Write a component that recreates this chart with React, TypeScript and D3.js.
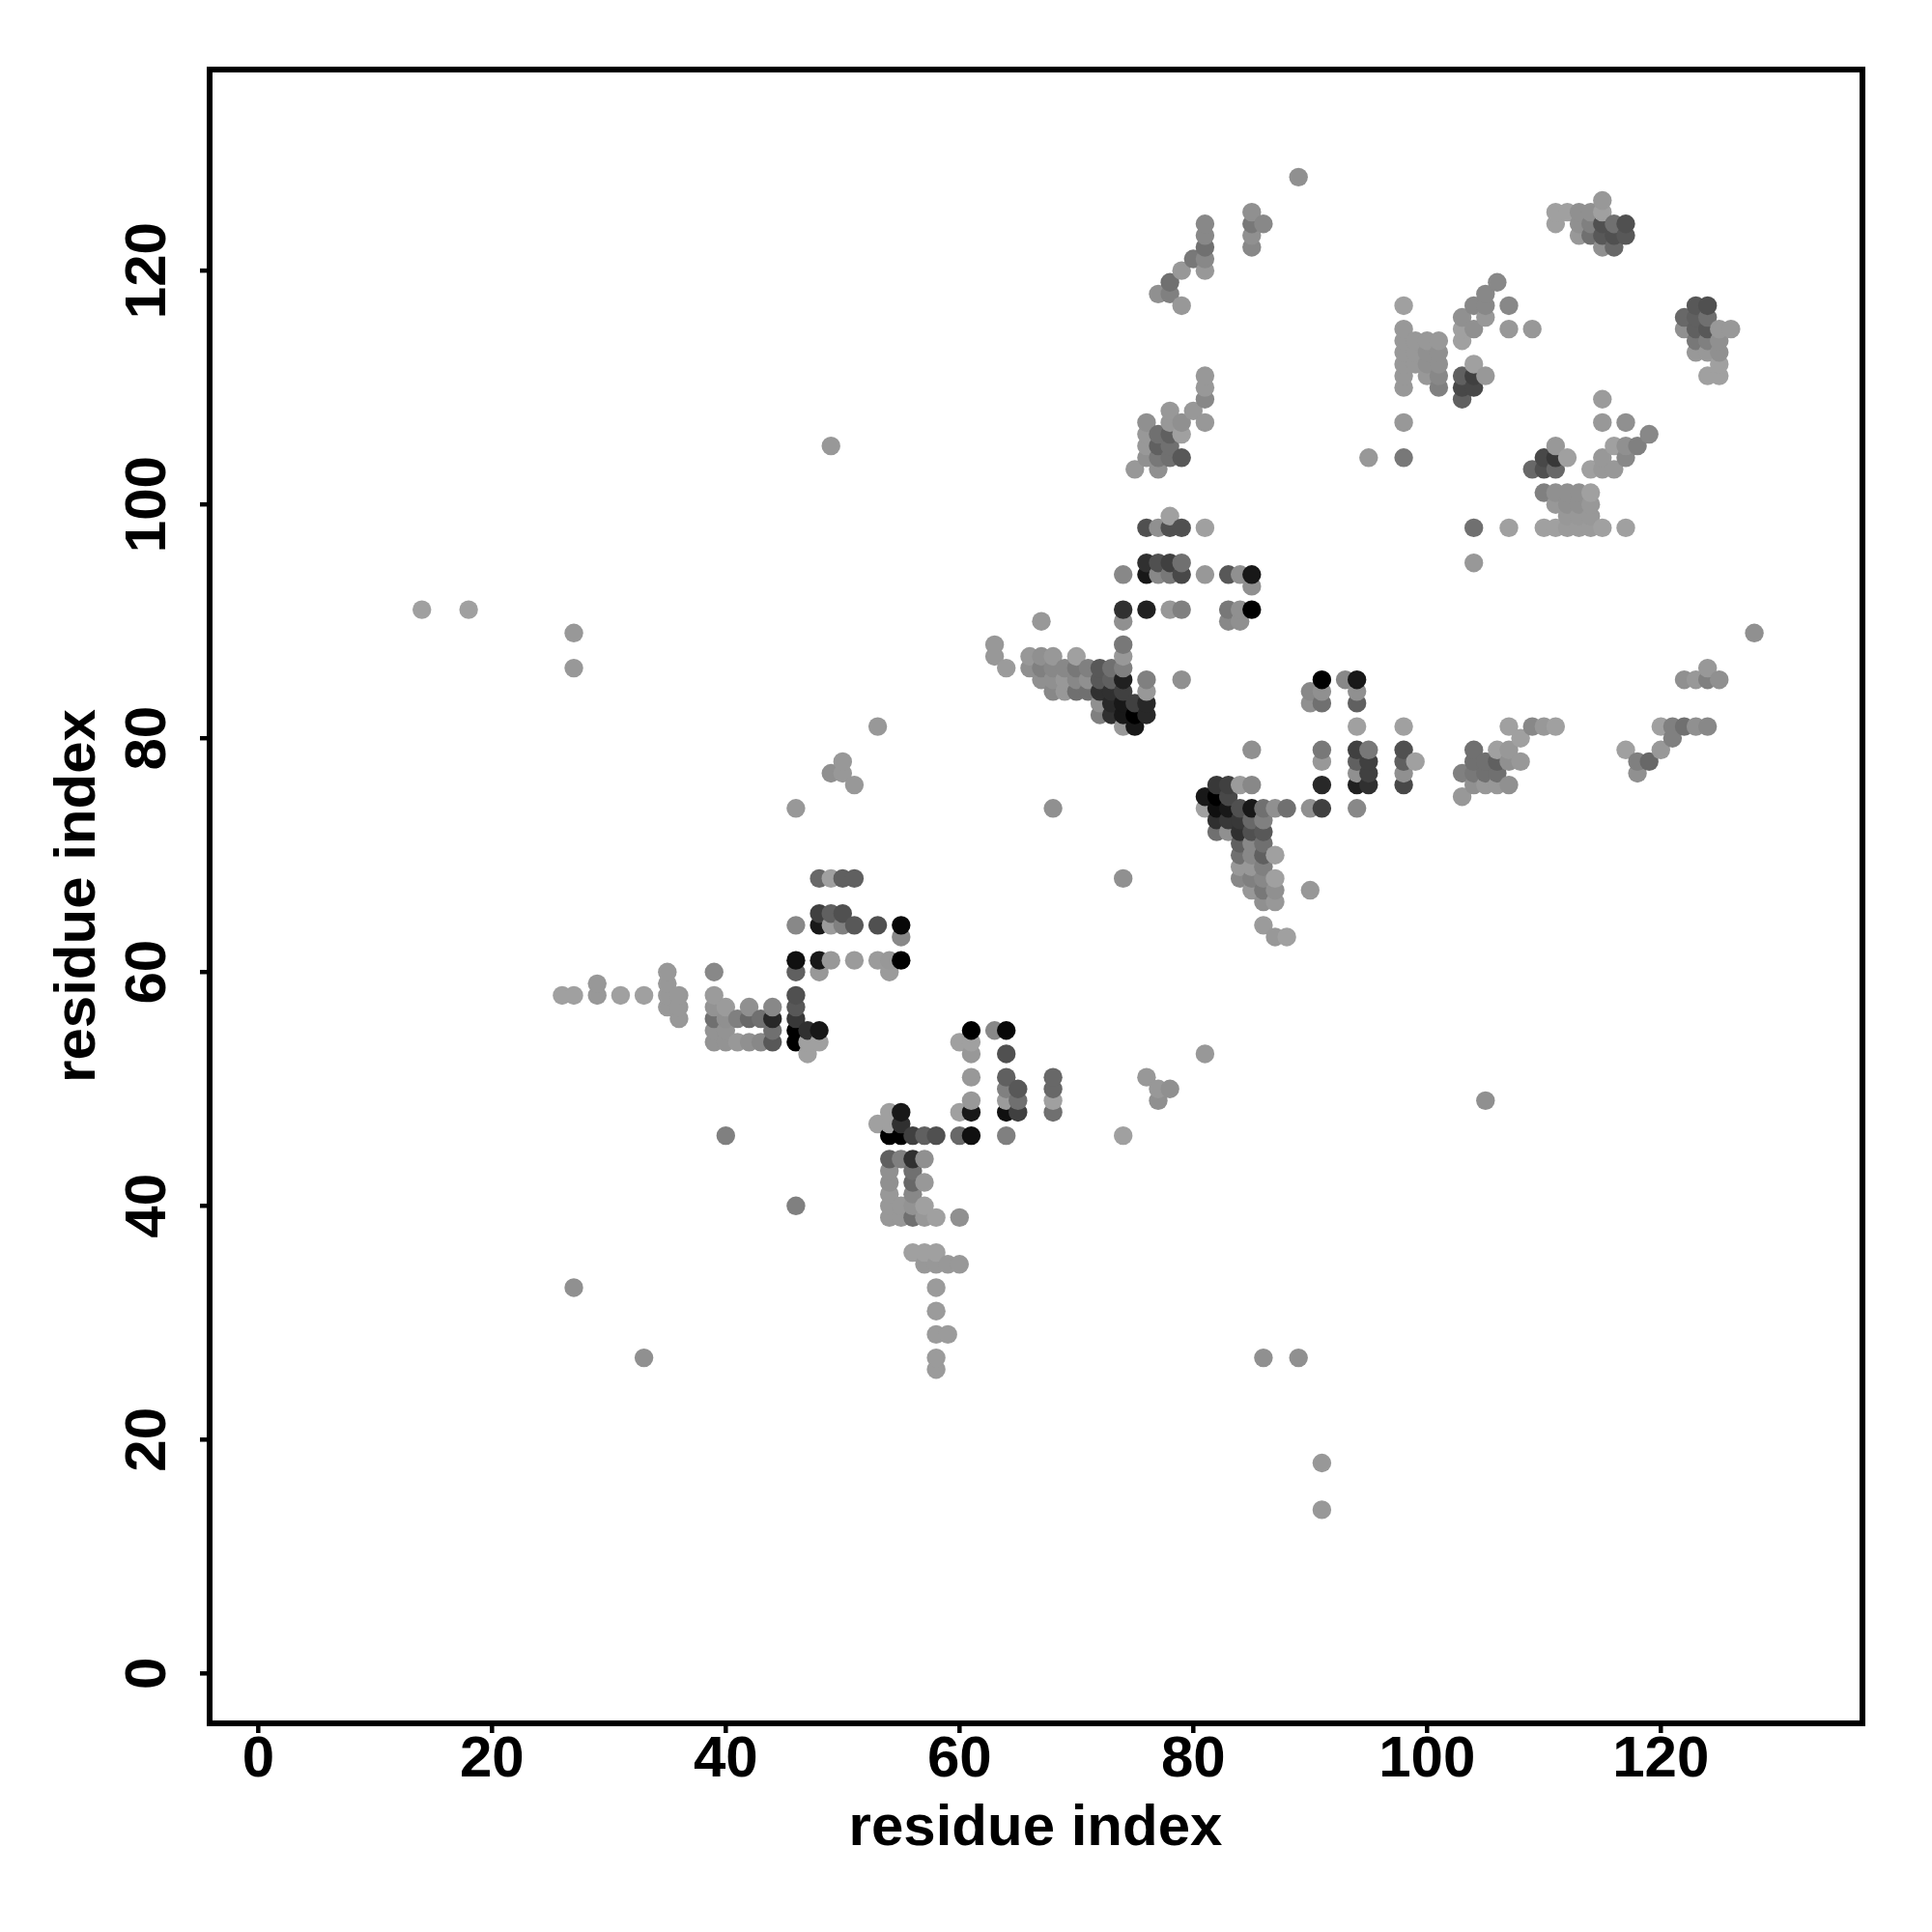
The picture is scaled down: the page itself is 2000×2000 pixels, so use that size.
import React from "react";
import * as d3 from "d3";

type Contact = [number, number, number];

// [residue i, residue j, contact strength 0..10]
const isolatedContacts: Contact[] = [
  [14,91,0],[18,91,0],[27,89,.5],[27,86,.5],[27,33,1],[33,27,1],[49,105,.5],[53,81,.5],[50,78,.5],[49,77,1],[50,77,.5],[51,76,.5],
  [46,74,.5],[68,74,1],[74,68,1],[46,40,2],[40,46,2],[86,27,1],[89,27,1],[91,18,.5],[91,14,.5],[105,49,1],[74,46,0],[81,53,.5],
  [76,51,.5],[77,50,.5],[78,50,1],[77,49,1],[90,67,.5],[67,90,.5],[85,79,1],[128,89,1],[95,104,.5],
];
const strandLeft: Contact[] = [
  [26,58,0],[27,58,0],[29,59,.5],[29,58,.5],[31,58,0],[33,58,0],[35,60,.5],[35,59,.5],[35,58,.5],[35,57,.5],[36,58,.5],[36,57,.5],[36,56,.5],
  [39,60,1.5],[39,58,.3],[39,57,.8],[39,56,3],[39,55,.8],[39,54,.8],[40,57,.3],[40,56,1],[40,55,.8],[40,54,.8],[41,56,2],[41,54,.5],
  [42,57,1],[42,56,3.5],[42,54,1],[43,56,3],[43,54,1.5],[44,57,1.5],[44,56,7.5],[44,55,3],[44,54,4.5],
  [46,64,1.5],[46,61,9],[46,60,4],[46,58,5],[46,57,4.5],[46,56,6.5],[46,55,10],[46,54,10],[47,55,7],[47,54,0],[47,53,0],[48,68,3.5],[48,65,6],[48,64,8.5],[48,61,8.5],[48,60,.5],[48,55,8.5],[48,54,0],
  [49,68,0],[49,65,4],[49,64,.3],[49,61,.5],[50,68,4],[50,65,5],[50,64,2],[51,68,4],[51,64,4.5],[51,61,.3],[53,64,5],[53,61,.3],[54,61,.5],[54,60,.3],[55,64,9.5],[55,63,1.5],[55,61,10],
];
const strandLower: Contact[] = [
  [53,47,0],[54,48,0],[54,47,0],[54,46,10],[54,44,4],[54,43,1],[54,42,1],[54,41,.5],[54,40,.5],[54,39,.5],[55,48,8.5],[55,47,7],[55,46,10],[55,44,2],[55,40,.5],[55,39,.5],
  [56,46,6],[56,44,7],[56,43,3],[56,42,3.5],[56,41,1.5],[56,40,.8],[56,39,3],[56,36,0],[57,46,4],[57,44,1],[57,42,.5],[57,40,0],[57,39,.5],[57,36,0],[57,35,.5],
  [58,46,5],[58,39,0],[58,36,0],[58,35,.5],[58,33,.3],[58,31,.3],[58,29,.3],[58,27,.3],[58,26,.3],[59,35,.5],[59,29,.3],[60,54,0],[60,48,0],[60,46,3.5],[60,39,1],[60,35,.5],
  [61,55,10],[61,54,0],[61,53,.5],[61,51,.5],[61,49,.5],[61,48,8.5],[61,46,9],[63,55,1.5],[64,55,9.5],[64,53,5],[64,51,4],[64,50,2],[64,49,.3],[64,48,9],[64,46,2],
  [65,50,4.5],[65,49,3],[65,48,6],[68,51,3.5],[68,50,3.5],[68,49,0],[68,48,3],
];
const strandCentre: Contact[] = [
  [63,88,.5],[63,87,.5],[64,86,.3],[66,87,.5],[66,86,1],[67,87,1],[67,86,2],[67,85,1],[68,87,.5],[68,86,1.5],[68,85,1],[68,84,1.5],[69,86,1.5],[69,85,.5],[69,84,.5],
  [70,87,0],[70,86,2.5],[70,85,1.5],[70,84,3],[71,86,2],[71,85,1],[71,84,3],[72,86,4.5],[72,85,4.5],[72,84,7],[72,83,1],[72,82,2],[73,86,3],[73,85,4],[73,84,7],[73,83,7.5],[73,82,7],
  [74,94,1.5],[74,91,7],[74,90,1],[74,88,2.5],[74,87,.5],[74,86,2],[74,85,8],[74,84,6],[74,83,8.5],[74,82,8.5],[74,81,.5],[75,83,6],[75,82,10],[75,81,8.5],[76,85,2],[76,84,.5],[76,83,7.5],[76,82,7.5],
  [76,98,5],[76,95,7],[76,94,8.5],[76,91,8],[77,98,1],[77,95,5],[77,94,1.5],[78,99,0],[78,98,5],[78,95,6],[78,94,2.5],[78,91,.5],[79,98,5],[79,95,3],[79,94,5.5],[79,91,2],[79,85,1],[81,98,0],[81,94,.5],
  [83,94,4.5],[83,91,2.5],[83,90,1.5],[84,94,1],[84,91,1],[84,90,1],[85,94,8.5],[85,93,1],[85,91,10],
];
const strandUpperLeft: Contact[] = [
  [75,103,.5],[76,107,1],[76,106,.5],[76,105,.5],[76,104,1],[77,106,3],[77,105,4],[77,104,2.5],[77,103,1],[78,108,.5],[78,107,.5],[78,106,4],[78,105,3],[78,104,3],[79,107,1],[79,106,0],[79,104,4.5],
  [80,108,.5],[81,111,.5],[81,110,.5],[81,109,1.5],[81,107,.5],
  [77,118,1],[78,119,3],[78,118,2],[79,120,.5],[79,117,.5],[80,121,2.5],[81,124,1.5],[81,123,1.5],[81,122,3],[81,121,1.5],[81,120,.5],[85,125,1],[85,124,2.5],[85,123,1],[85,122,1.5],[86,124,1.5],[89,128,1],
];
const strandCentreRight: Contact[] = [
  [81,75,8.5],[81,74,0],[82,76,6.5],[82,75,10],[82,74,9],[82,73,7],[82,72,3],[83,76,6],[83,75,5.5],[83,74,8.5],[83,73,6.5],[83,72,1],[84,76,.3],[84,74,5],[84,73,6.5],[84,72,7],[84,71,4],[84,70,3],[84,69,.5],[84,68,1.5],
  [85,76,1.5],[85,74,8.5],[85,73,3.5],[85,72,5],[85,71,1.5],[85,70,1.5],[85,69,.5],[85,68,2],[85,67,.5],[86,74,3],[86,73,2],[86,72,4.5],[86,71,3],[86,70,4],[86,69,2],[86,68,1.5],[86,67,2.5],[86,66,1],[86,64,.3],
  [87,74,1],[87,70,0],[87,68,0],[87,67,1],[87,66,.5],[87,63,.5],[88,74,3],[88,63,0],
  [90,84,1.5],[90,83,1],[90,74,1],[91,85,10],[91,84,1],[91,83,3],[91,79,2.5],[91,78,.5],[91,76,7.5],[91,74,6],[93,85,1.5],[94,85,8.5],[94,84,1],[94,83,4],[94,81,0],[94,79,6],[94,78,4],[94,77,1],[94,76,8],[94,74,1.5],
  [95,79,2.5],[95,78,6],[95,77,6],[95,76,7],[98,81,0],[98,79,5],[98,78,4],[98,77,1],[98,76,5.5],[99,78,0],
  [103,77,2],[103,75,.5],[104,79,3],[104,78,3],[104,77,2.5],[104,76,1],[105,78,3],[105,77,3],[105,76,.5],[106,79,0],[106,78,4],[106,77,3],[106,76,.5],[107,81,0],[107,79,.5],[107,78,1],[107,76,1],[108,80,0],[108,78,.5],[109,81,1.5],[110,81,.5],[111,81,0],
  [117,79,0],[118,78,2],[118,77,1],[119,78,3.5],[120,81,0],[120,79,.5],[121,81,2],[121,80,2],[122,85,1],[122,81,3],[123,85,.5],[123,81,1],[124,86,.5],[124,85,2],[124,81,1.5],[125,85,1],
];
const strandUpperRight: Contact[] = [
  [98,117,0],[98,115,.5],[98,114,.5],[98,113,.5],[98,112,.5],[98,111,.5],[98,110,.5],[98,107,.5],[98,104,2.5],[99,114,.5],[99,113,.5],[99,112,.5],[100,114,.5],[100,113,1],[100,112,1],[100,111,.5],[101,114,.5],[101,113,1],[101,112,1],[101,111,1.5],[101,110,2],
  [103,116,1],[103,115,0],[103,114,0],[103,111,4],[103,110,5.5],[103,109,4],[104,117,1.5],[104,115,1],[104,112,0],[104,111,6],[104,110,5.5],[104,98,3],[104,95,.5],[105,118,1.5],[105,117,1.5],[105,116,.5],[105,111,.5],[106,119,1.5],[107,117,1.5],[107,115,.5],[107,98,0],[109,115,.5],
  [109,103,3.5],[110,104,5.5],[110,103,5],[110,101,2],[110,98,0],[111,105,.5],[111,104,6.5],[111,103,3.5],[111,101,1],[111,100,.5],[111,98,0],[112,104,0],[112,101,1],[112,100,1],[112,99,.5],[112,98,.3],[113,101,1],[113,100,1],[113,99,.5],[113,98,.3],[114,103,0],[114,101,0],[114,100,.5],[114,99,.5],[114,98,.3],
  [115,109,.3],[115,107,.5],[115,104,.5],[115,103,.5],[115,98,0],[116,105,0],[116,103,.5],[117,107,1],[117,105,1],[117,104,1.5],[117,98,0],[118,105,2],[119,106,1.5],
  [111,125,0],[111,124,0],[112,125,0],[113,125,1],[113,124,1],[113,123,.5],[114,125,1],[114,124,2],[114,123,3],[115,126,.5],[115,125,0],[115,124,5],[115,123,4.5],[115,122,1],[116,124,3],[116,123,5],[116,122,3.5],[117,124,5],[117,123,4.5],
  [122,116,3.5],[122,115,1],[123,117,4.5],[123,116,4],[123,115,4],[123,114,2.5],[123,113,.5],[124,117,5],[124,116,3],[124,115,4.5],[124,114,2],[124,113,.5],[124,111,0],[125,115,.5],[125,114,1],[125,113,1],[125,112,0],[125,111,0],[126,115,.5],
];

const tickValues = [0, 20, 40, 60, 80, 100, 120];
const axisTitle = "residue index";

const FONT = "'Liberation Sans', Arial, Helvetica, sans-serif";

export default function App() {
  const left = 217, right = 1928, top = 72, bottom = 1784;
  const x = d3.scaleLinear().domain([-4.16, 137.25]).range([left, right]);
  const y = d3.scaleLinear().domain([-4.27, 137.2]).range([bottom, top]);
  const shade = d3.scaleLinear<number>().domain([0, 10]).range([160, 0]);

  const contacts = [
    ...isolatedContacts, ...strandLeft, ...strandLower, ...strandCentre,
    ...strandUpperLeft, ...strandCentreRight, ...strandUpperRight,
  ].sort((a, b) => d3.ascending(a[0], b[0]) || d3.ascending(a[1], b[1]));

  return (
    <svg width={2000} height={2000} viewBox="0 0 2000 2000"
      style={{ position: "absolute", left: 0, top: 0, background: "#fff" }} fontFamily={FONT} fontWeight="bold">
      {contacts.map(([i, j, s], k) => {
        const g = Math.round(shade(s));
        return <circle key={k} cx={x(i)} cy={y(j)} r={9.7} fill={d3.rgb(g, g, g).formatHex()} />;
      })}
      <rect x={left} y={top} width={right - left} height={bottom - top} fill="none" stroke="#000" strokeWidth={6} />
      {tickValues.map((t) => (
        <g key={t}>
          <line x1={x(t)} x2={x(t)} y1={bottom} y2={bottom + 10} stroke="#000" strokeWidth={4.5} />
          <text x={x(t)} y={1839} textAnchor="middle" fontSize={60}>{t}</text>
          <line x1={left} x2={left - 10} y1={y(t)} y2={y(t)} stroke="#000" strokeWidth={4.5} />
          <text transform={`translate(170.5,${y(t)}) rotate(-90)`} textAnchor="middle" fontSize={60}>{t}</text>
        </g>
      ))}
      <text x={1072} y={1910} textAnchor="middle" fontSize={60}>{axisTitle}</text>
      <text transform="translate(98,927.5) rotate(-90)" textAnchor="middle" fontSize={60}>{axisTitle}</text>
    </svg>
  );
}
